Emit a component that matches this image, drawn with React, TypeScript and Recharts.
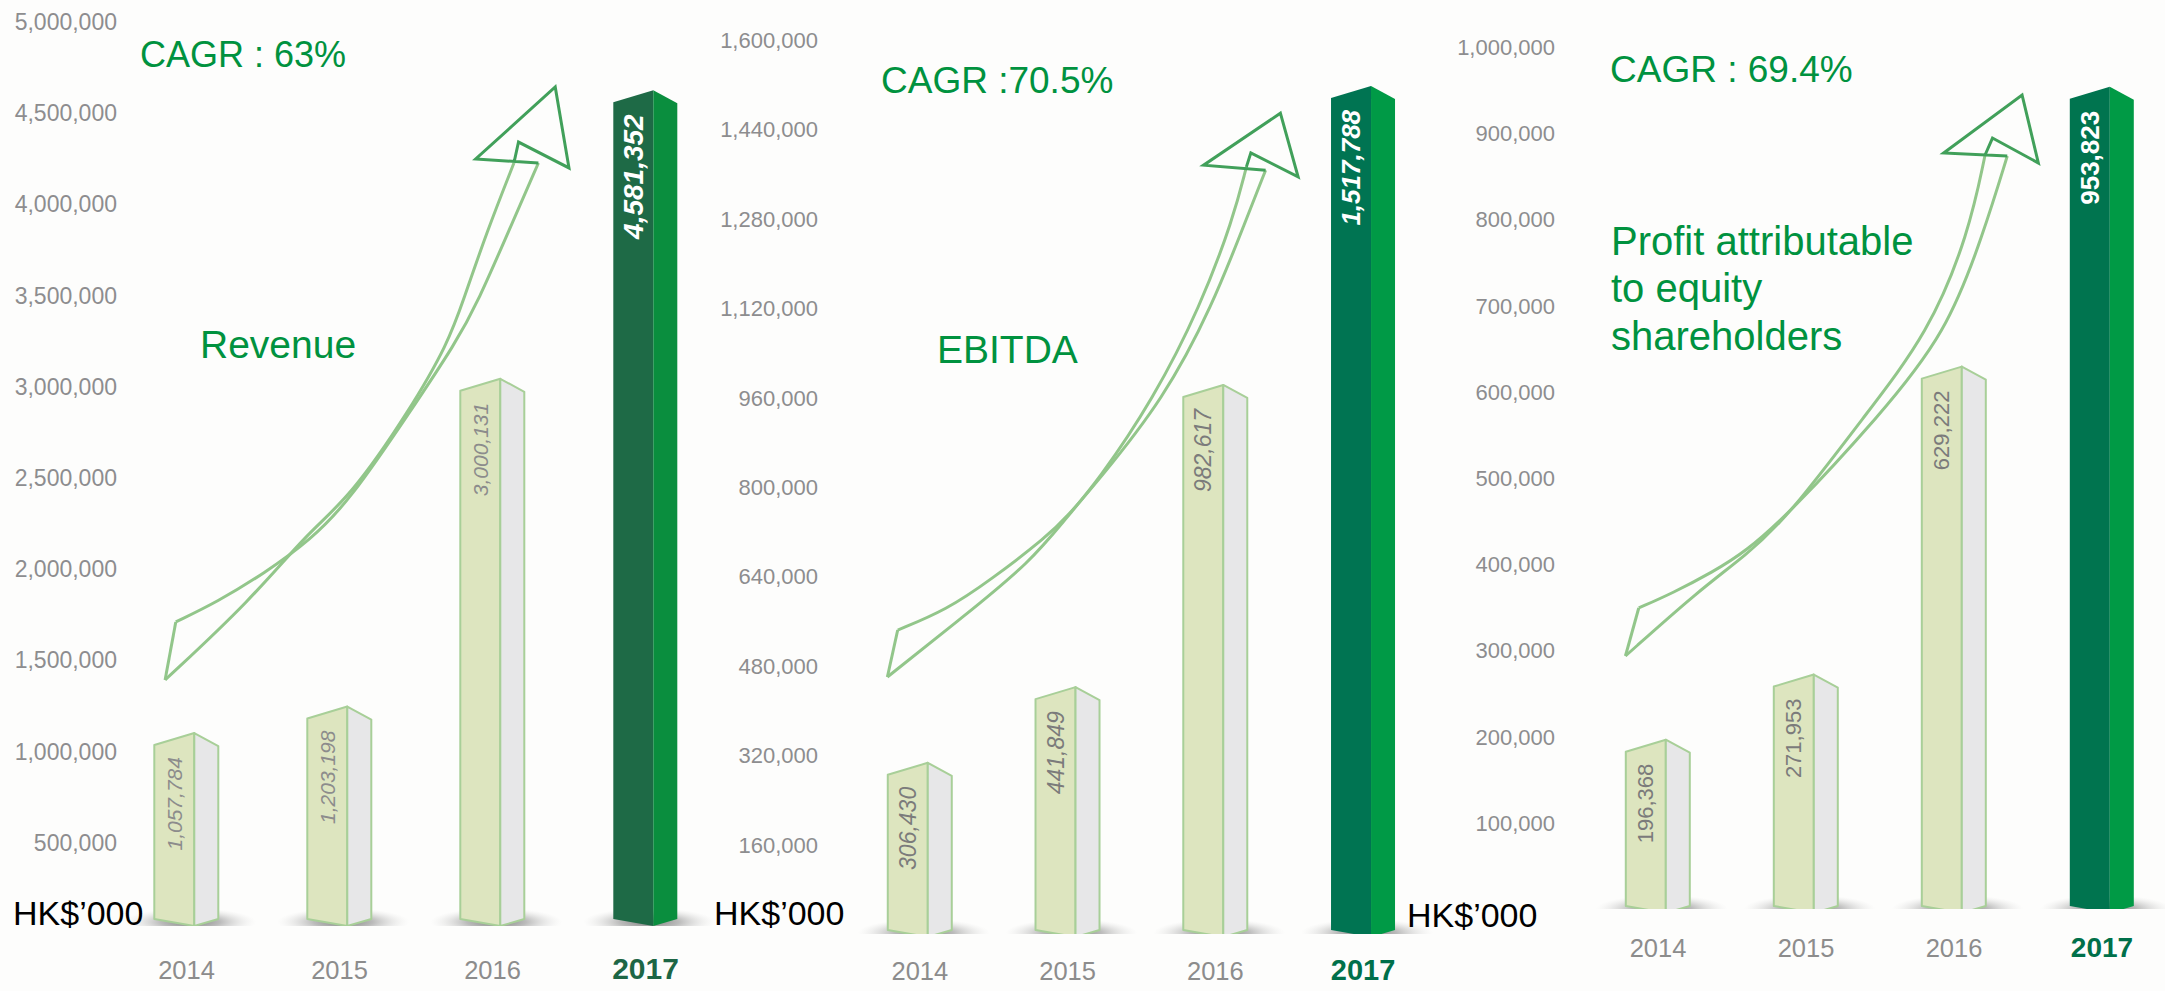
import React from 'react';
import { ComposedChart, Bar, Scatter, XAxis, YAxis } from 'recharts';

// HK$'000
const years = ['2014', '2015', '2016', '2017'];
const revenue = [1057784, 1203198, 3000131, 4581352];
const ebitda = [306430, 441849, 982617, 1517788];
const profit = [196368, 271953, 629222, 953823];

const revenueTicks = [500000, 1000000, 1500000, 2000000, 2500000, 3000000, 3500000, 4000000, 4500000, 5000000];
const ebitdaTicks = [160000, 320000, 480000, 640000, 800000, 960000, 1120000, 1280000, 1440000, 1600000];
const profitTicks = [100000, 200000, 300000, 400000, 500000, 600000, 700000, 800000, 900000, 1000000];

// growth arrow outline: ax = position in category slots (0..4), ay = value
const revenueArrowTail = [{ ax: 0.43, ay: 1667000 }, { ax: 0.36, ay: 1349000 }];
const revenueArrowLow = [
  { ax: 0.36, ay: 1349000 }, { ax: 0.92, ay: 1787000 }, { ax: 1.29, ay: 2155000 }, { ax: 1.57, ay: 2352000 },
  { ax: 1.96, ay: 2829000 }, { ax: 2.21, ay: 3196000 }, { ax: 2.31, ay: 3432000 }, { ax: 2.46, ay: 3799000 },
  { ax: 2.64, ay: 4183000 },
];
const revenueArrowHigh = [
  { ax: 0.43, ay: 1667000 }, { ax: 0.7, ay: 1776000 }, { ax: 1.01, ay: 1935000 }, { ax: 1.31, ay: 2116000 },
  { ax: 1.57, ay: 2336000 }, { ax: 1.96, ay: 2818000 }, { ax: 2.26, ay: 3196000 }, { ax: 2.41, ay: 3432000 },
  { ax: 2.6, ay: 3799000 }, { ax: 2.8, ay: 4183000 },
];
const revenueArrowHead = [
  { ax: 2.64, ay: 4183000 }, { ax: 2.67, ay: 4298000 }, { ax: 3.0, ay: 4156000 }, { ax: 2.91, ay: 4600000 },
  { ax: 2.39, ay: 4205000 }, { ax: 2.8, ay: 4183000 },
];

const ebitdaArrowTail = [{ ax: 0.35, ay: 544000 }, { ax: 0.28, ay: 460000 }];
const ebitdaArrowLow = [
  { ax: 0.28, ay: 460000 }, { ax: 0.79, ay: 567000 }, { ax: 1.25, ay: 666000 }, { ax: 1.5, ay: 748000 },
  { ax: 1.7, ay: 809000 }, { ax: 2.08, ay: 957000 }, { ax: 2.4, ay: 1124000 }, { ax: 2.62, ay: 1280000 },
  { ax: 2.71, ay: 1373000 },
];
const ebitdaArrowHigh = [
  { ax: 0.35, ay: 544000 }, { ax: 0.68, ay: 580000 }, { ax: 0.98, ay: 634000 }, { ax: 1.36, ay: 711000 },
  { ax: 1.5, ay: 748000 }, { ax: 1.7, ay: 809000 }, { ax: 2.15, ay: 957000 }, { ax: 2.48, ay: 1124000 },
  { ax: 2.71, ay: 1280000 }, { ax: 2.84, ay: 1367000 },
];
const ebitdaArrowHead = [
  { ax: 2.71, ay: 1373000 }, { ax: 2.74, ay: 1398000 }, { ax: 3.06, ay: 1355000 }, { ax: 2.94, ay: 1469000 },
  { ax: 2.42, ay: 1376000 }, { ax: 2.84, ay: 1367000 },
];

const profitArrowTail = [{ ax: 0.37, ay: 349200 }, { ax: 0.28, ay: 293500 }];
const profitArrowLow = [
  { ax: 0.28, ay: 293500 }, { ax: 0.78, ay: 370100 }, { ax: 1.09, ay: 409500 }, { ax: 1.39, ay: 457100 },
  { ax: 1.89, ay: 570800 }, { ax: 2.33, ay: 668200 }, { ax: 2.6, ay: 784200 }, { ax: 2.71, ay: 874700 },
];
const profitArrowHigh = [
  { ax: 0.37, ay: 349200 }, { ax: 0.6, ay: 366600 }, { ax: 0.87, ay: 391000 }, { ax: 1.09, ay: 414200 },
  { ax: 1.39, ay: 459400 }, { ax: 1.99, ay: 570800 }, { ax: 2.45, ay: 668200 }, { ax: 2.7, ay: 784200 },
  { ax: 2.86, ay: 873500 },
];
const profitArrowHead = [
  { ax: 2.71, ay: 874700 }, { ax: 2.76, ay: 894400 }, { ax: 3.07, ay: 865400 }, { ax: 2.96, ay: 944300 },
  { ax: 2.43, ay: 877000 }, { ax: 2.86, ay: 873500 },
];

const FONT = '"Liberation Sans", Arial, sans-serif';
const GREEN = '#00923f';
const W = 2165;
const H = 991;

interface Panel {
  id: string;
  values: number[];
  ticks: number[];
  max: number;
  plotLeft: number;
  plotRight: number;
  plotTop: number;
  plotBottom: number;
  labelRight: number;
  tickDy: number;
  yFont: number;
  xDy: number;
  hiYearFont: number;
  hiYearColor: string;
  hiFront: string;
  hiSide: string;
  valueFont: number;
  hiValueFont: number;
  valueColor: string;
  italic: boolean;
  baseShift: number;
  arrow: { tail: any[]; low: any[]; high: any[]; head: any[] };
}

const panels: Panel[] = [
  {
    id: 'rev', values: revenue, ticks: revenueTicks, max: 5000000,
    plotLeft: 110, plotRight: 722, plotTop: 14, plotBottom: 926,
    labelRight: 117, tickDy: 16, yFont: 23, xDy: 53, hiYearFont: 30, hiYearColor: '#1d6645',
    hiFront: '#1e6a46', hiSide: '#0a8e3e', valueFont: 21, hiValueFont: 28, valueColor: '#8c8c8c',
    italic: true, baseShift: 0,
    arrow: { tail: revenueArrowTail, low: revenueArrowLow, high: revenueArrowHigh, head: revenueArrowHead },
  },
  {
    id: 'ebitda', values: ebitda, ticks: ebitdaTicks, max: 1600000,
    plotLeft: 846, plotRight: 1437, plotTop: 40, plotBottom: 934,
    labelRight: 818, tickDy: 8, yFont: 22, xDy: 46, hiYearFont: 29, hiYearColor: '#00704a',
    hiFront: '#007452', hiSide: '#009a46', valueFont: 23, hiValueFont: 26, valueColor: '#7b7b7b',
    italic: true, baseShift: 3,
    arrow: { tail: ebitdaArrowTail, low: ebitdaArrowLow, high: ebitdaArrowHigh, head: ebitdaArrowHead },
  },
  {
    id: 'profit', values: profit, ticks: profitTicks, max: 1000000,
    plotLeft: 1584, plotRight: 2176, plotTop: 47, plotBottom: 909,
    labelRight: 1555, tickDy: 8, yFont: 22, xDy: 48, hiYearFont: 28, hiYearColor: '#00704a',
    hiFront: '#00744f', hiSide: '#009a45', valueFont: 22, hiValueFont: 26, valueColor: '#7b7b7b',
    italic: false, baseShift: 4,
    arrow: { tail: profitArrowTail, low: profitArrowLow, high: profitArrowHigh, head: profitArrowHead },
  },
];

const noDot = () => <g />;

const makeBarShape = (p: Panel) => (props: any) => {
  const { x, y, width, height, index, payload } = props;
  const cx = x + width / 2;
  const left = cx - 32;
  const mid = left + 40;
  const right = mid + 24;
  const top = y;
  const base = y + height + p.baseShift;
  const hi = index === years.length - 1;
  const front = `${left},${top + 12} ${mid},${top} ${mid},${base} ${left},${base - 7}`;
  const side = `${mid},${top} ${right},${top + 13} ${right},${base - 7} ${mid},${base}`;
  const tx = left + 20;
  const ty = top + 24;
  return (
    <g>
      <ellipse cx={mid - 4} cy={base - 4} rx={66} ry={14} fill={`url(#shadow-${p.id})`} />
      <polygon points={front} fill={hi ? p.hiFront : '#dde5bf'} stroke={hi ? 'none' : '#a8cf98'} strokeWidth={2} strokeLinejoin="round" />
      <polygon points={side} fill={hi ? p.hiSide : '#e7e7e8'} stroke={hi ? 'none' : '#a8cf98'} strokeWidth={2} strokeLinejoin="round" />
      <text
        x={tx}
        y={ty}
        transform={`rotate(-90 ${tx} ${ty})`}
        textAnchor="end"
        dominantBaseline="central"
        fontFamily={FONT}
        fontSize={hi ? p.hiValueFont : p.valueFont}
        fontWeight={hi ? 'bold' : 'normal'}
        fontStyle={p.italic ? 'italic' : 'normal'}
        fill={hi ? '#ffffff' : p.valueColor}
      >
        {payload.value.toLocaleString('en-US')}
      </text>
    </g>
  );
};

const makeYTick = (p: Panel) => (props: any) => {
  const { x, y, payload } = props;
  return (
    <text x={x + (p.labelRight - p.plotLeft)} y={y + p.tickDy} textAnchor="end" fontFamily={FONT} fontSize={p.yFont} fill="#8d8d8f">
      {Number(payload.value).toLocaleString('en-US')}
    </text>
  );
};

const makeXTick = (p: Panel) => (props: any) => {
  const { x, y, payload, index } = props;
  const hi = index === years.length - 1;
  return (
    <text
      x={x}
      y={y + p.xDy}
      textAnchor="middle"
      fontFamily={FONT}
      fontSize={hi ? p.hiYearFont : 25.5}
      fontWeight={hi ? 'bold' : 'normal'}
      fill={hi ? p.hiYearColor : '#8c8c8c'}
    >
      {payload.value}
    </text>
  );
};

const PanelChart: React.FC<{ p: Panel }> = ({ p }) => {
  const data = years.map((year, i) => ({ year, value: p.values[i] }));
  const width = p.plotRight + 10;
  const shaft = { stroke: '#92c68a', strokeWidth: 3 };
  const head = { stroke: '#41a05a', strokeWidth: 3 };
  return (
    <div style={{ position: 'absolute', left: 0, top: 0 }}>
      <ComposedChart
        width={width}
        height={H}
        data={data}
        margin={{ top: p.plotTop, bottom: H - p.plotBottom - 30, left: p.plotLeft - 80, right: 10 }}
      >
        <defs>
          <radialGradient id={`shadow-${p.id}`} cx="50%" cy="50%" r="50%">
            <stop offset="0%" stopColor="#6a6a6a" stopOpacity={0.9} />
            <stop offset="45%" stopColor="#8f8f8f" stopOpacity={0.6} />
            <stop offset="100%" stopColor="#d8d8d8" stopOpacity={0} />
          </radialGradient>
        </defs>
        <XAxis
          xAxisId="cat"
          dataKey="year"
          axisLine={false}
          tickLine={false}
          tickSize={0}
          tickMargin={0}
          height={30}
          interval={0}
          tick={makeXTick(p)}
        />
        <XAxis xAxisId="pos" type="number" dataKey="ax" domain={[0, 4]} allowDataOverflow hide />
        <YAxis
          yAxisId="v"
          type="number"
          domain={[0, p.max]}
          ticks={p.ticks}
          interval={0}
          allowDataOverflow
          axisLine={false}
          tickLine={false}
          tickSize={0}
          tickMargin={0}
          width={80}
          tick={makeYTick(p)}
        />
        <Bar xAxisId="cat" yAxisId="v" dataKey="value" shape={makeBarShape(p)} isAnimationActive={false} />
        <Scatter xAxisId="pos" yAxisId="v" data={p.arrow.tail} dataKey="ay" fill="none" line={shaft} lineJointType="linear" shape={noDot} isAnimationActive={false} />
        <Scatter xAxisId="pos" yAxisId="v" data={p.arrow.low} dataKey="ay" fill="none" line={shaft} lineJointType="basis" shape={noDot} isAnimationActive={false} />
        <Scatter xAxisId="pos" yAxisId="v" data={p.arrow.high} dataKey="ay" fill="none" line={shaft} lineJointType="basis" shape={noDot} isAnimationActive={false} />
        <Scatter xAxisId="pos" yAxisId="v" data={p.arrow.head} dataKey="ay" fill="none" line={head} lineJointType="linear" shape={noDot} isAnimationActive={false} />
      </ComposedChart>
    </div>
  );
};

const Notes: React.FC = () => (
  <svg width={W} height={H} style={{ position: 'absolute', left: 0, top: 0, pointerEvents: 'none' }} fontFamily={FONT}>
    <text x={13} y={925} fontSize={34} fill="#000">HK$’000</text>
    <text x={714} y={925} fontSize={34} fill="#000">HK$’000</text>
    <text x={1407} y={927} fontSize={34} fill="#000">HK$’000</text>
    <text x={140} y={67} fontSize={36} fill={GREEN}>CAGR : 63%</text>
    <text x={881} y={93} fontSize={37} fill={GREEN}>CAGR :70.5%</text>
    <text x={1610} y={82} fontSize={37} fill={GREEN}>CAGR : 69.4%</text>
    <text x={200} y={358} fontSize={39} fill={GREEN}>Revenue</text>
    <text x={937} y={363} fontSize={39} fill={GREEN}>EBITDA</text>
    <text x={1611} y={255} fontSize={40} fill={GREEN}>Profit attributable</text>
    <text x={1611} y={302} fontSize={40} fill={GREEN}>to equity</text>
    <text x={1611} y={350} fontSize={40} fill={GREEN}>shareholders</text>
  </svg>
);

export default function App() {
  return (
    <div style={{ position: 'absolute', left: 0, top: 0, width: W, height: H, overflow: 'hidden', background: '#fdfdfc' }}>
      {panels.map((p) => (
        <PanelChart key={p.id} p={p} />
      ))}
      <Notes />
    </div>
  );
}
